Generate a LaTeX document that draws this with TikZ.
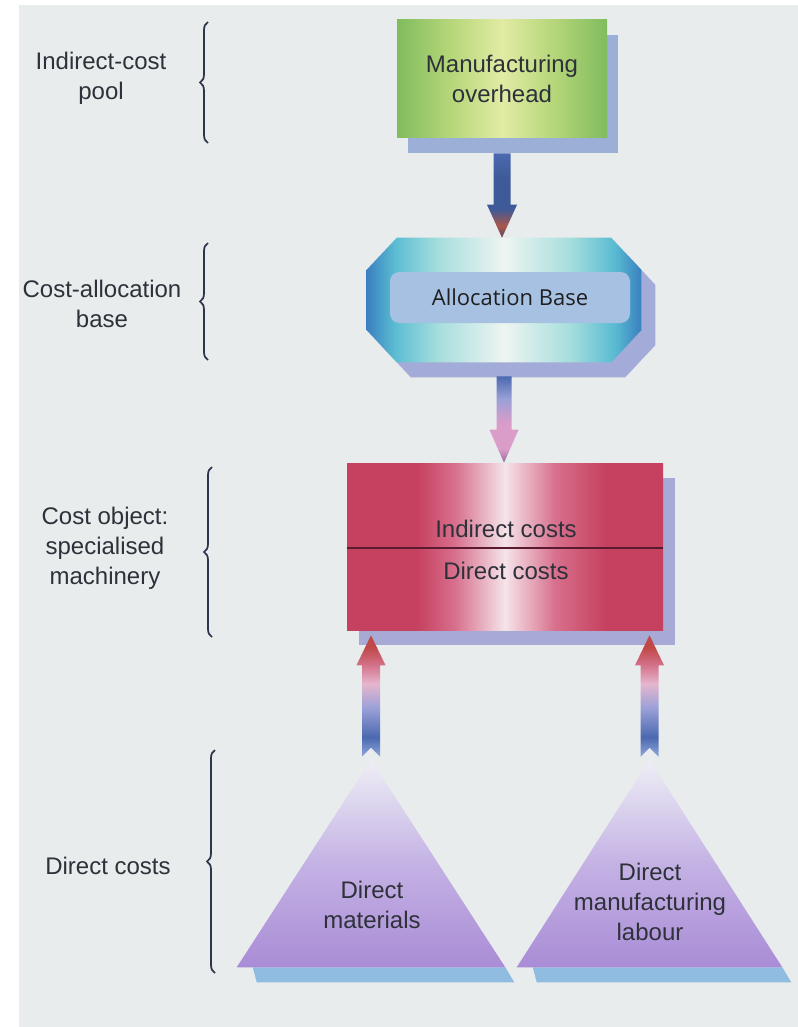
\documentclass[tikz,border=0pt]{standalone}
\usepackage{fontspec}
\setmainfont{Liberation Sans}
\newfontfamily\uifont{Open Sans}
\usetikzlibrary{calc,decorations.pathreplacing,shadows}

% palette
\definecolor{paper}{HTML}{E9ECEC}
\definecolor{ink}{HTML}{2E3139}
\definecolor{braceink}{HTML}{2C3549}
\definecolor{grnedge}{HTML}{80BC5E}
\definecolor{grnmid}{HTML}{B2D577}
\definecolor{grnlight}{HTML}{E2EBA4}
\definecolor{boxshadow}{HTML}{9CAFD6}
\definecolor{octedge}{HTML}{3A80C0}
\definecolor{octcyan}{HTML}{5ABCD2}
\definecolor{octpale}{HTML}{A6DEDD}
\definecolor{octwhite}{HTML}{EEF5F1}
\definecolor{octshadow}{HTML}{A3ABD8}
\definecolor{basebox}{HTML}{A7C1E3}
\definecolor{rededge}{HTML}{C6405F}
\definecolor{redmid}{HTML}{D76F8C}
\definecolor{redpale}{HTML}{F5E4EA}
\definecolor{redshadow}{HTML}{A6AAD4}
\definecolor{divider}{HTML}{5A1A30}
\definecolor{tritop}{HTML}{EEEEF6}
\definecolor{trimid}{HTML}{C4B2E4}
\definecolor{tribase}{HTML}{A98CD6}
\definecolor{trishadow}{HTML}{8FBCE0}
\definecolor{arrblue}{HTML}{4B69B0}
\definecolor{arrnavy}{HTML}{3E5A98}
\definecolor{arrrust}{HTML}{A9584A}
\definecolor{arrdark}{HTML}{5E4A60}
\definecolor{arrpink}{HTML}{DA9CC8}
\definecolor{arrplum}{HTML}{9A6A9C}
\definecolor{arrlav}{HTML}{9AA0D8}
\definecolor{arrred}{HTML}{C04848}
\definecolor{arrrose}{HTML}{D27088}
\definecolor{arrsky}{HTML}{90A8DC}
\definecolor{arrblush}{HTML}{E6B6CE}

% shadings (the path's box spans 25bp..75bp)
\pgfdeclarehorizontalshading{greenfill}{100bp}{color(0bp)=(grnedge); color(25bp)=(grnedge); color(37bp)=(grnmid); color(50bp)=(grnlight); color(63bp)=(grnmid); color(75bp)=(grnedge); color(100bp)=(grnedge)}
\pgfdeclarehorizontalshading{octfill}{100bp}{color(0bp)=(octedge); color(25bp)=(octedge); color(30bp)=(octcyan); color(38bp)=(octpale); color(50bp)=(octwhite); color(62bp)=(octpale); color(70bp)=(octcyan); color(75bp)=(octedge); color(100bp)=(octedge)}
\pgfdeclarehorizontalshading{redfill}{100bp}{color(0bp)=(rededge); color(25bp)=(rededge); color(36bp)=(rededge); color(42bp)=(redmid); color(50bp)=(redpale); color(58bp)=(redmid); color(66bp)=(rededge); color(75bp)=(rededge); color(100bp)=(rededge)}
\pgfdeclareverticalshading{trifill}{100bp}{color(0bp)=(tribase); color(25bp)=(tribase); color(50bp)=(trimid); color(75bp)=(tritop); color(100bp)=(tritop)}
\pgfdeclareverticalshading{darrowfill}{100bp}{color(0bp)=(arrdark); color(25bp)=(arrdark); color(32bp)=(arrrust); color(42bp)=(arrnavy); color(60bp)=(arrnavy); color(75bp)=(arrblue); color(100bp)=(arrblue)}
\pgfdeclareverticalshading{parrowfill}{100bp}{color(0bp)=(arrplum); color(25bp)=(arrplum); color(33bp)=(arrpink); color(48bp)=(arrpink); color(62bp)=(arrlav); color(75bp)=(arrblue); color(100bp)=(arrblue)}
\pgfdeclareverticalshading{uarrowfill}{100bp}{color(0bp)=(arrsky); color(25bp)=(arrsky); color(33bp)=(arrblue); color(45bp)=(arrlav); color(55bp)=(arrblush); color(63bp)=(arrrose); color(70bp)=(arrred); color(75bp)=(arrred); color(100bp)=(arrred)}

% fat arrow: start, tip, shaft half-width, head half-width, head length (signed), notch depth (signed), shading
\newcommand\fatarrow[7]{%
  \shade[shading=#7] ($(#1)+(-#3,0)$) -- ($(#2)+(-#3,#5)$) -- ($(#2)+(-#4,#5)$) -- (#2)
    -- ($(#2)+(#4,#5)$) -- ($(#2)+(#3,#5)$) -- ($(#1)+(#3,0)$) -- ($(#1)+(0,#6)$) -- cycle;}

% octagon round the node "oct": options, x offset, y offset
\newcommand\octagonat[3]{%
  \path[#1] ($(oct.north west)+(30+#2,#3)$) -- ($(oct.north east)+(-30+#2,#3)$)
    -- ($(oct.north east)+(#2,32+#3)$) -- ($(oct.south east)+(#2,-32+#3)$)
    -- ($(oct.south east)+(-30+#2,#3)$) -- ($(oct.south west)+(30+#2,#3)$)
    -- ($(oct.south west)+(#2,-32+#3)$) -- ($(oct.north west)+(#2,32+#3)$) -- cycle;}

\begin{document}
\begin{tikzpicture}[x=0.75pt,y=-0.75pt,
  lbl/.style={font=\fontsize{18}{22.5}\selectfont, text=ink, align=center, inner sep=0pt},
  bracket/.style={draw=braceink, line width=1.3pt, decorate, decoration={brace, amplitude=6pt}}]

\useasboundingbox (0,0) rectangle (798,1027);
\fill[white] (0,0) rectangle (798,1027);
\fill[paper] (19,5) rectangle (798,1027);

% level labels and their braces
\node[lbl] (lpool) at (101,78) {Indirect-cost\\pool};
\node[lbl] (lbase) at (102,304) {Cost-allocation\\base};
\node[lbl] (lobj) at (105,548) {Cost object:\\specialised\\machinery};
\node[lbl] (ldir) at (108,866) {Direct costs};

\draw[bracket] (208,143) -- (208,22);
\draw[bracket] (208,360) -- (208,243);
\draw[bracket] (212,637) -- (212,467);
\draw[bracket] (215,973) -- (215,750);

% indirect-cost pool
\node[lbl, shade, shading=greenfill, minimum width=157.5pt, minimum height=88.5pt,
      general shadow={fill=boxshadow, shadow xshift=8.25pt, shadow yshift=-11.25pt}]
      (mo) at (502,79) {Manufacturing\\overhead};

% cost-allocation base
\node[inner sep=0pt, minimum width=205.5pt, minimum height=93pt] (oct) at (504,300) {};
\octagonat{fill=octshadow}{14}{15}
\octagonat{shade, shading=octfill}{0}{0}
\node[fill=basebox, rounded corners=7pt, minimum width=180pt, minimum height=38.25pt,
      inner sep=0pt, font=\uifont\fontsize{16.5}{20}\selectfont, text=black!88]
      (ab) at (510,297.5) {Allocation Base};

% cost object
\node[inner sep=0pt, shade, shading=redfill, minimum width=237pt, minimum height=125.25pt,
      general shadow={fill=redshadow, shadow xshift=9pt, shadow yshift=-11.25pt}]
      (co) at (505,546.5) {};
\draw[divider, line width=1.5pt] ($(co.west)+(0,1.5)$) -- ($(co.east)+(0,1.5)$);
\node[lbl, anchor=base] (ic) at ($(co.north)+(1,75)$) {Indirect costs};
\node[lbl, anchor=base] (dc) at ($(co.north)+(1,117)$) {Direct costs};

% direct costs
\node[inner sep=0pt, minimum width=201pt, minimum height=155.25pt] (dm) at (371,863.5) {};
\node[inner sep=0pt, minimum width=198.75pt, minimum height=155.25pt] (dl) at (649.5,863.5) {};
\foreach \t in {dm,dl}{
  \fill[trishadow] ($(\t.south west)+(16,0)$) -- (\t.south east) -- ($(\t.south east)+(9,15)$) -- ($(\t.south west)+(20,15)$) -- cycle;
  \shade[shading=trifill] (\t.north) -- (\t.south east) -- (\t.south west) -- cycle;
}
\node[lbl, text width=150pt] (dmt) at (372,905) {Direct\\materials};
\node[lbl, text width=150pt] (dlt) at (650,902) {Direct\\manufacturing\\labour};

% flows
\fatarrow{$(mo.south)+(0,15)$}{mo.south |- oct.north}{8.5}{15}{-33}{0}{darrowfill}
\fatarrow{$(oct.south)+(0,14)$}{oct.south |- co.north}{7.5}{14.5}{-33}{0}{parrowfill}
\fatarrow{$(dm.north)+(0,-3)$}{$(dm.north |- co.south)+(0,5)$}{9}{14.5}{30}{-9}{uarrowfill}
\fatarrow{$(dl.north)+(0,-3)$}{$(dl.north |- co.south)+(0,5)$}{9}{14.5}{30}{-9}{uarrowfill}

\end{tikzpicture}
\end{document}
